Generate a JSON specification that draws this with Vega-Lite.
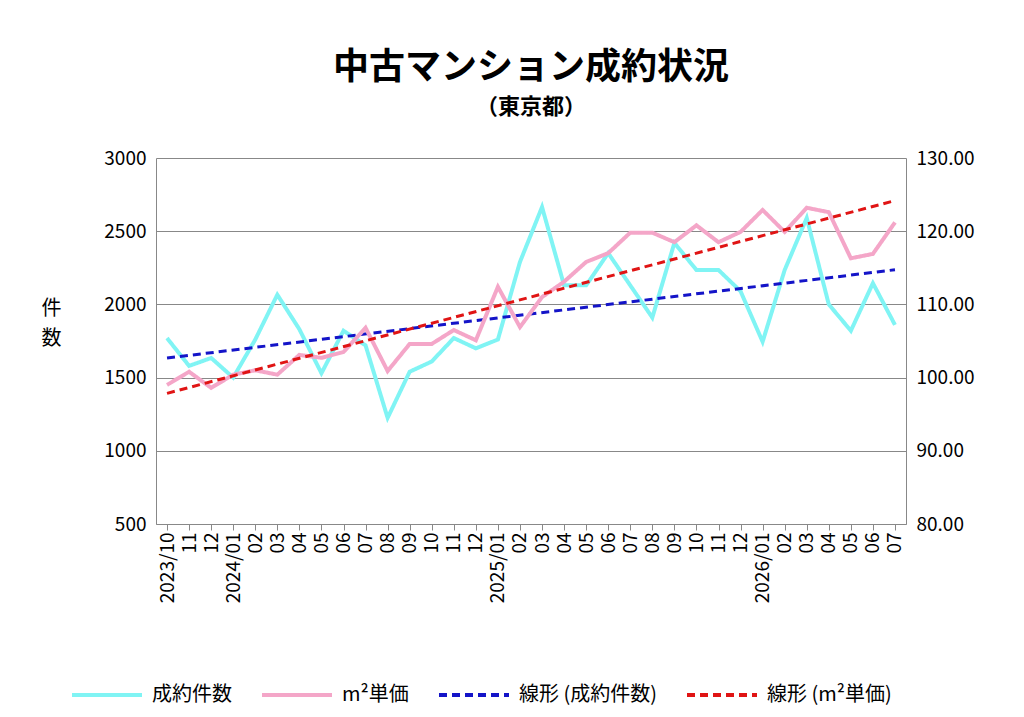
{
  "$schema": "https://vega.github.io/schema/vega-lite/v6.json",
  "width": 750,
  "height": 366,
  "autosize": "none",
  "padding": {"left": 156, "top": 158, "right": 118, "bottom": 193},
  "background": "white",
  "config": {
    "font": "Noto Sans CJK JP",
    "view": {"stroke": null},
    "axis": {"labelFontSize": 19, "labelColor": "#000", "domainColor": "#888", "tickColor": "#888", "gridColor": "#888", "labelFont": "Noto Sans CJK JP"},
    "legend": {"labelFontSize": 20, "labelColor": "#000", "labelFont": "Noto Sans CJK JP", "labelLimit": 300}
  },
  "title": {
    "text": "中古マンション成約状況",
    "subtitle": "（東京都）",
    "fontSize": 36,
    "fontWeight": "bold",
    "subtitleFontSize": 22,
    "subtitleFontWeight": "bold",
    "subtitleColor": "#000",
    "anchor": "middle",
    "offset": 30,
    "subtitlePadding": 10
  },
  "data": {
    "values": [
      {"i": 0, "count": 1770, "price": 99.0},
      {"i": 1, "count": 1580, "price": 100.8},
      {"i": 2, "count": 1634, "price": 98.6},
      {"i": 3, "count": 1500, "price": 100.4},
      {"i": 4, "count": 1760, "price": 101.0},
      {"i": 5, "count": 2066, "price": 100.4},
      {"i": 6, "count": 1830, "price": 103.1},
      {"i": 7, "count": 1530, "price": 102.7},
      {"i": 8, "count": 1820, "price": 103.5},
      {"i": 9, "count": 1720, "price": 106.8},
      {"i": 10, "count": 1225, "price": 100.9},
      {"i": 11, "count": 1540, "price": 104.6},
      {"i": 12, "count": 1610, "price": 104.6},
      {"i": 13, "count": 1770, "price": 106.5},
      {"i": 14, "count": 1700, "price": 105.1},
      {"i": 15, "count": 1760, "price": 112.4},
      {"i": 16, "count": 2290, "price": 106.9},
      {"i": 17, "count": 2665, "price": 111.0},
      {"i": 18, "count": 2130, "price": 113.1},
      {"i": 19, "count": 2130, "price": 115.8},
      {"i": 20, "count": 2350, "price": 117.0},
      {"i": 21, "count": 2130, "price": 119.8},
      {"i": 22, "count": 1910, "price": 119.8},
      {"i": 23, "count": 2420, "price": 118.5},
      {"i": 24, "count": 2235, "price": 120.8},
      {"i": 25, "count": 2235, "price": 118.5},
      {"i": 26, "count": 2090, "price": 119.9},
      {"i": 27, "count": 1745, "price": 122.9},
      {"i": 28, "count": 2235, "price": 119.9},
      {"i": 29, "count": 2590, "price": 123.2},
      {"i": 30, "count": 2000, "price": 122.6},
      {"i": 31, "count": 1820, "price": 116.3},
      {"i": 32, "count": 2145, "price": 116.9},
      {"i": 33, "count": 1860, "price": 121.2}
    ]
  },
  "encoding": {
    "x": {
      "field": "i",
      "type": "quantitative",
      "scale": {"domain": [-0.5, 33.5], "nice": false, "zero": false},
      "axis": {
        "title": null,
        "grid": false,
        "values": [0,1,2,3,4,5,6,7,8,9,10,11,12,13,14,15,16,17,18,19,20,21,22,23,24,25,26,27,28,29,30,31,32,33],
        "labelAngle": -90,
        "labelAlign": "right",
        "labelBaseline": "middle",
        "labelExpr": "split('2023/10,11,12,2024/01,02,03,04,05,06,07,08,09,10,11,12,2025/01,02,03,04,05,06,07,08,09,10,11,12,2026/01,02,03,04,05,06,07', ',')[datum.value]",
        "labelOverlap": false,
        "labelFlush": false,
        "tickSize": 6
      }
    }
  },
  "layer": [
    {
      "encoding": {
        "y": {
          "field": "count",
          "type": "quantitative",
          "scale": {"domain": [500, 3000], "nice": false, "zero": false},
          "axis": {
            "values": [500, 1000, 1500, 2000, 2500, 3000],
            "format": "d",
            "title": ["件", "数"],
            "titleAngle": 0,
            "titleFontSize": 20,
            "titleFontWeight": "normal",
            "titleX": -105,
            "titleY": 160,
            "titleLineHeight": 30,
            "labelPadding": 10,
            "tickSize": 0,
            "grid": true
          }
        }
      },
      "layer": [
        {
          "mark": {"type": "line", "strokeWidth": 4},
          "encoding": {
            "color": {
              "datum": "成約件数",
              "type": "nominal",
              "scale": {
                "domain": ["成約件数", "m²単価", "線形 (成約件数)", "線形 (m²単価)"],
                "range": ["#80f4f4", "#f4a6c8", "#1414c8", "#e01414"]
              },
              "legend": {
                "title": null,
                "orient": "none",
                "direction": "horizontal",
                "legendX": -86,
                "legendY": 500,
                "symbolType": "stroke",
                "symbolSize": 4900,
                "symbolStrokeWidth": 4,
                "columnPadding": 22,
                "labelOffset": 8
              }
            },
            "strokeDash": {
              "datum": "成約件数",
              "type": "nominal",
              "scale": {
                "domain": ["成約件数", "m²単価", "線形 (成約件数)", "線形 (m²単価)"],
                "range": [[1, 0], [1, 0], [8, 5], [8, 5]]
              },
              "legend": {
                "title": null,
                "orient": "none",
                "direction": "horizontal",
                "legendX": -86,
                "legendY": 500,
                "symbolType": "stroke",
                "symbolSize": 4900,
                "symbolStrokeWidth": 4,
                "columnPadding": 22,
                "labelOffset": 8
              }
            }
          }
        },
        {
          "transform": [{"regression": "count", "on": "i"}],
          "mark": {"type": "line", "strokeWidth": 3},
          "encoding": {
            "color": {"datum": "線形 (成約件数)", "type": "nominal"},
            "strokeDash": {"datum": "線形 (成約件数)", "type": "nominal"}
          }
        }
      ]
    },
    {
      "encoding": {
        "y": {
          "field": "price",
          "type": "quantitative",
          "scale": {"domain": [80, 130], "nice": false, "zero": false},
          "axis": {
            "orient": "right",
            "format": ".2f",
            "values": [80, 90, 100, 110, 120, 130],
            "title": null,
            "grid": false,
            "tickSize": 0,
            "labelPadding": 10
          }
        }
      },
      "layer": [
        {
          "mark": {"type": "line", "strokeWidth": 4},
          "encoding": {
            "color": {"datum": "m²単価", "type": "nominal"},
            "strokeDash": {"datum": "m²単価", "type": "nominal"}
          }
        },
        {
          "transform": [{"regression": "price", "on": "i"}],
          "mark": {"type": "line", "strokeWidth": 3},
          "encoding": {
            "color": {"datum": "線形 (m²単価)", "type": "nominal"},
            "strokeDash": {"datum": "線形 (m²単価)", "type": "nominal"}
          }
        }
      ]
    }
  ],
  "resolve": {"scale": {"y": "independent"}}
}
